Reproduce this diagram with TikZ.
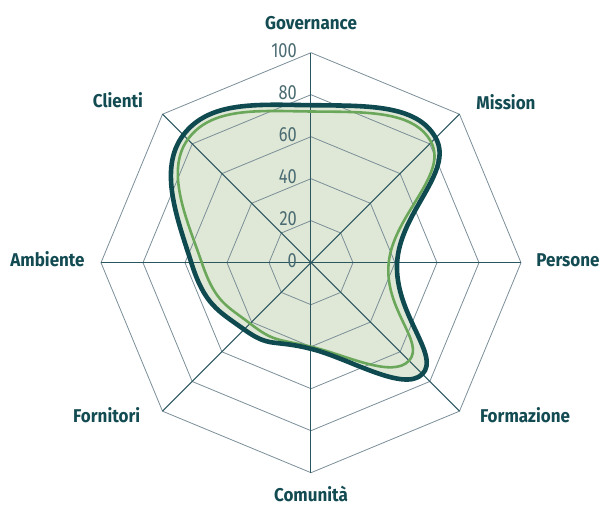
\documentclass[tikz,border=0pt]{standalone}
\usepackage{fontspec}
\setmainfont{Fira Sans}
\newfontfamily\lblfont{Fira Sans}[FakeStretch=0.92]
\newfontfamily\tickfont{Fira Sans}[FakeStretch=0.8]
\definecolor{darkteal}{HTML}{0E4A4F}
\definecolor{sergreen}{HTML}{6AA75A}
\definecolor{areafill}{HTML}{DFE8D6}
\definecolor{gridgrey}{HTML}{7B8E98}
\definecolor{spokecol}{HTML}{2A5660}
\definecolor{lbltext}{HTML}{134B52}
\definecolor{ticktext}{HTML}{4A6B72}
\tikzset{
  axislabel/.style={font=\lblfont\bfseries\fontsize{18.5}{20}\selectfont, text=lbltext, inner sep=0pt, anchor=base},
  ticklabel/.style={font=\tickfont\fontsize{20.5}{22}\selectfont, text=ticktext, inner sep=0pt, anchor=base east},
  ring/.style={draw=gridgrey, line width=0.8pt},
  spoke/.style={draw=spokecol, line width=1pt},
  darkline/.style={draw=darkteal, line width=4.6pt, line join=round},
  greenline/.style={draw=sergreen, line width=2.6pt, line join=round},
}
\begin{document}
\begin{tikzpicture}[x=1pt,y=1pt]
\useasboundingbox (-311,-243.3) rectangle (289,262.7);
\def\R{2.1}
% fill of the dark series
\fill[areafill] plot[smooth cycle, tension=0.78] coordinates {
 (90:75*\R) (45:84*\R) (0:41*\R) (-45:75*\R) (-90:41*\R) (-135:45*\R) (180:57*\R) (135:86*\R)};
% rings
\foreach \v in {20,40,60,80,100}{
  \draw[ring] (90:\v*\R) -- (45:\v*\R) -- (0:\v*\R) -- (-45:\v*\R) -- (-90:\v*\R) -- (-135:\v*\R) -- (180:\v*\R) -- (135:\v*\R) -- cycle;
}
% spokes
\coordinate (c) at (0,0);
\foreach \a/\n in {90/gov,45/mis,0/per,-45/for,-90/com,-135/fnt,180/amb,135/cli}{
  \coordinate (\n) at (\a:210);
  \draw[spoke] (c) -- (\n);
}
% series
\draw[greenline] plot[smooth cycle, tension=0.78] coordinates {
 (90:72*\R) (45:81*\R) (0:37*\R) (-45:66*\R) (-90:40*\R) (-135:41*\R) (180:52*\R) (135:83*\R)};
\draw[darkline] plot[smooth cycle, tension=0.78] coordinates {
 (90:75*\R) (45:84*\R) (0:41*\R) (-45:75*\R) (-90:41*\R) (-135:45*\R) (180:57*\R) (135:86*\R)};
% tick labels
\foreach \v in {0,20,40,60,80,100}{
  \node[ticklabel] (t\v) at (-14,\v*\R-5) {\v};
}
% axis labels
\node[axislabel] (lgov) at (0,232.7) {Governance};
\node[axislabel] (lmis) at (195,153.4) {Mission};
\node[axislabel] (lper) at (257,-3.3) {Persone};
\node[axislabel] (lfor) at (214,-160) {Formazione};
\node[axislabel] (lcom) at (0,-238.5) {Comunità};
\node[axislabel] (lfnt) at (-204.3,-160) {Fornitori};
\node[axislabel] (lamb) at (-263.5,-3.3) {Ambiente};
\node[axislabel] (lcli) at (-193,155) {Clienti};
\end{tikzpicture}
\end{document}
